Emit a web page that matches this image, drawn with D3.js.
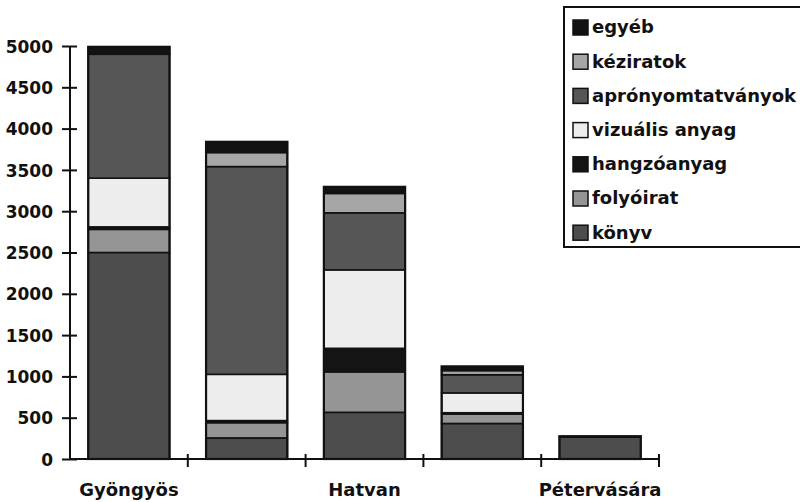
<!DOCTYPE html>
<html>
<head>
<meta charset="utf-8">
<script src="https://cdn.jsdelivr.net/npm/d3@7"></script>
<style>
  body { margin: 0; background: #fff; }
  text { font-family: "DejaVu Sans", sans-serif; font-weight: bold; fill: #111; }
</style>
</head>
<body>
<div id="chart"></div>
<script>
  // bars left to right; only every other category has a label
  var tickLabels = ["Gyöngyös", "", "Hatvan", "", "Pétervására"];
  var seriesNames = ["könyv", "folyóirat", "hangzóanyag", "vizuális anyag", "aprónyomtatványok", "kéziratok", "egyéb"];
  var konyv      = [2500, 255, 565, 430, 265];
  var folyoirat  = [280, 185, 490, 115, 0];
  var hangzo     = [30, 25, 285, 15, 0];
  var vizualis   = [590, 560, 950, 240, 0];
  var apro       = [1500, 2515, 690, 220, 0];
  var keziratok  = [0, 170, 235, 50, 0];
  var egyeb      = [90, 130, 80, 50, 10];
  var yTicks = [0, 500, 1000, 1500, 2000, 2500, 3000, 3500, 4000, 4500, 5000];

  var colors = ["#4d4d4d", "#959595", "#141414", "#ededed", "#565656", "#a6a6a6", "#121212"];

  var width = 800, height = 502;
  var svg = d3.select("#chart").append("svg")
    .attr("width", width)
    .attr("height", height);

  var table = tickLabels.map(function(d, i) {
    return {
      i: i,
      "könyv": konyv[i], "folyóirat": folyoirat[i], "hangzóanyag": hangzo[i],
      "vizuális anyag": vizualis[i], "aprónyomtatványok": apro[i],
      "kéziratok": keziratok[i], "egyéb": egyeb[i]
    };
  });

  var x = d3.scaleBand().domain(d3.range(tickLabels.length))
    .range([70, 659]).paddingInner(0.31).paddingOuter(0.155);
  var y = d3.scaleLinear().domain([0, 5000]).range([459, 46]);

  var stack = d3.stack().keys(seriesNames)(table);

  var layers = svg.append("g").selectAll("g")
    .data(stack).join("g")
    .attr("fill", function(d, i) { return colors[i]; });

  layers.selectAll("rect")
    .data(function(d) { return d.filter(function(s) { return s[1] - s[0] > 0; }); })
    .join("rect")
    .attr("x", function(d) { return x(d.data.i); })
    .attr("width", x.bandwidth())
    .attr("y", function(d) { return y(d[1]); })
    .attr("height", function(d) { return y(d[0]) - y(d[1]); })
    .attr("stroke", "#111")
    .attr("stroke-width", 1.6);

  // outer outline of each bar
  svg.append("g").selectAll("rect")
    .data(table).join("rect")
    .attr("x", function(d) { return x(d.i); })
    .attr("width", x.bandwidth())
    .attr("y", function(d) { return y(d3.sum(seriesNames, function(k) { return d[k]; })); })
    .attr("height", function(d) { return y(0) - y(d3.sum(seriesNames, function(k) { return d[k]; })); })
    .attr("fill", "none")
    .attr("stroke", "#111")
    .attr("stroke-width", 2.2);

  // y axis
  var yAxis = svg.append("g")
    .attr("transform", "translate(70,0)")
    .call(d3.axisLeft(y).tickValues(yTicks).tickSize(8).tickPadding(10).tickFormat(d3.format("d")));
  yAxis.select(".domain").attr("stroke", "#111").attr("stroke-width", 2).attr("d", "M0,46V459");
  yAxis.selectAll(".tick line").attr("stroke", "#111").attr("stroke-width", 2).attr("x1", 7);
  yAxis.selectAll(".tick text").attr("font-size", 17).attr("font-family", "DejaVu Sans").attr("x", -17).attr("dy", "0.36em");

  // x axis
  var xEdges = d3.range(tickLabels.length + 1).map(function(i) {
    return i < tickLabels.length ? x(i) - x.step() * x.paddingInner() / 2 : 659;
  });
  var xAxis = svg.append("g").attr("transform", "translate(0,459)");
  xAxis.append("line").attr("x1", 70).attr("x2", 659)
    .attr("stroke", "#111").attr("stroke-width", 2);
  xAxis.selectAll(".xt").data(xEdges.slice(1)).join("line")
    .attr("x1", function(d) { return d; }).attr("x2", function(d) { return d; })
    .attr("y1", -5).attr("y2", 8)
    .attr("stroke", "#111").attr("stroke-width", 2);
  xAxis.selectAll("text").data(tickLabels).join("text")
    .attr("x", function(d, i) { return x(i) + x.bandwidth() / 2; })
    .attr("y", 37)
    .attr("text-anchor", "middle")
    .attr("font-size", 18)
    .text(function(d) { return d; });

  // legend
  var legend = svg.append("g");
  legend.append("rect")
    .attr("x", 564).attr("y", 7).attr("width", 250).attr("height", 240)
    .attr("fill", "#fff").attr("stroke", "#111").attr("stroke-width", 2);
  var order = seriesNames.slice().reverse();
  var items = legend.selectAll(".item").data(order).join("g")
    .attr("transform", function(d, i) { return "translate(573," + (27 + i * 34.2) + ")"; });
  items.append("rect")
    .attr("x", 0).attr("y", -7).attr("width", 15).attr("height", 15)
    .attr("fill", function(d) { return colors[seriesNames.indexOf(d)]; })
    .attr("stroke", "#111").attr("stroke-width", 1.5);
  items.append("text")
    .attr("x", 19).attr("y", 0).attr("dy", "0.36em")
    .attr("font-size", 18)
    .text(function(d) { return d; });
</script>
</body>
</html>
